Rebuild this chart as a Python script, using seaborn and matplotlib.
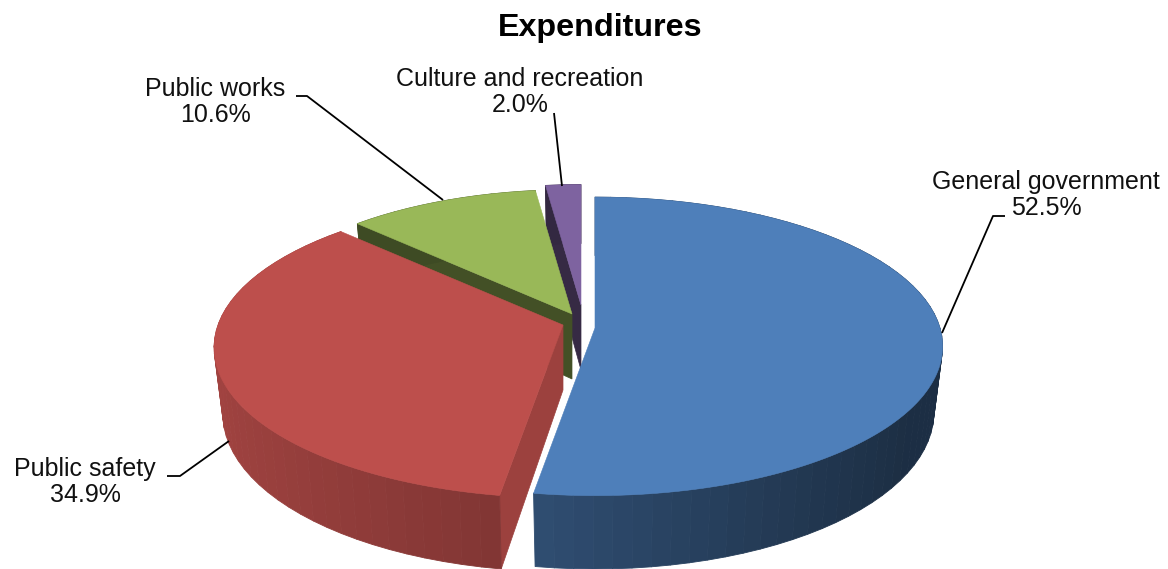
import numpy as np
import matplotlib
matplotlib.use("Agg")
import matplotlib.pyplot as plt
from matplotlib.collections import PolyCollection
from matplotlib.colors import to_rgb
import seaborn as sns

# Budget shares, in the order the slices run clockwise from twelve o'clock
categories = ["General government", "Public safety", "Public works", "Culture and recreation"]
shares = [52.5, 34.9, 10.6, 2.0]
colors = sns.color_palette(["#4F81BD", "#C0504D", "#9BBB59", "#8064A2"])

# Where each exploded slice's tip sits on the canvas, its size relative to
# the front slices, and how strongly its near side swells towards the viewer
tips = [(595, 328), (563, 325), (572, 314), (581, 305)]
slice_scale = [1.0, 1.0, 0.95, 0.92]
perspective = [0.123, 0.15, 0.123, 0.123]
# Brightness of the outer wall (dark end, bright end) and of the cut face
wall_shade = [(0.36, 0.60), (0.64, 0.84), (0.40, 0.40), (0.40, 0.40)]
face_shade = [0.40, 0.81, 0.43, 0.42]

# Projection of the tilted disc
RX, RY = 345.0, 147.0
DEPTH, BASE_SX, BASE_SY = 65.0, 0.975, 1.05

label_text = [f"{c}\n{s:.1f}%" for c, s in zip(categories, shares)]
label_pos = [(1046, 195), (85, 482), (215, 102), (520, 92)]
leaders = [
    [(942, 333), (993, 216), (1005, 216)],
    [(229, 441), (180, 476), (167, 476)],
    [(443, 200), (307, 96), (296, 96)],
    [(562, 186), (554, 113)],
]


def rim(i, theta, sx=1.0, sy=1.0, dy=0.0):
    """Project rim points of slice i at clockwise angles theta (radians from north)."""
    u, v = np.sin(theta), np.cos(theta)
    p = slice_scale[i] / (1 + perspective[i] * v)
    return np.column_stack([tips[i][0] + sx * RX * u * p, tips[i][1] + dy - sy * RY * v * p])


sns.set_theme(style="white")
plt.rcParams["font.family"] = ["Liberation Sans", "DejaVu Sans"]

fig = plt.figure(figsize=(11.68, 5.69), dpi=100, facecolor="white")
ax = fig.add_axes([0, 0, 1, 1])
ax.set_xlim(0, 1168)
ax.set_ylim(569, 0)
ax.axis("off")

edges = np.cumsum([0.0] + shares) / sum(shares) * 2 * np.pi

# Slices at the back are painted first so the nearer ones overlap them
for i in reversed(range(len(shares))):
    start, end = edges[i], edges[i + 1]
    base = np.array(to_rgb(colors[i]))
    tip = tips[i]

    # cut face along the slice's leading radius
    first = np.array([start])
    face = [tip, rim(i, first)[0], rim(i, first, BASE_SX, BASE_SY, DEPTH)[0], (tip[0], tip[1] + DEPTH)]
    ax.fill(*zip(*face), color=base * face_shade[i], lw=0.5, zorder=i * -10 + 1)

    # outer wall as narrow vertical strips, giving the stepped shading
    theta = np.linspace(start, end, max(int((end - start) * 20), 2) + 1)
    top = rim(i, theta)
    low = rim(i, theta, BASE_SX, BASE_SY, DEPTH)
    quads = [[top[k], top[k + 1], low[k + 1], low[k]] for k in range(len(theta) - 1)]
    mid = (theta[:-1] + theta[1:]) / 2
    dark, bright = wall_shade[i]
    if i == 0:
        shade = bright + (dark - bright) * np.clip(np.sin(mid) + 0.16, 0, 1)
    else:
        shade = dark + (bright - dark) * np.clip(-np.sin(mid), 0, 1)
    wall_colors = [np.clip(base * s, 0, 1) for s in shade]
    ax.add_collection(PolyCollection(quads, facecolors=wall_colors, edgecolors=wall_colors,
                                     linewidths=0.6, zorder=i * -10 + 2))

    # top surface
    arc = np.linspace(start, end, 240)
    outline = np.vstack([[tip], rim(i, arc)])
    ax.fill(outline[:, 0], outline[:, 1], color=base * 0.985, lw=0.4, zorder=i * -10 + 3)

ax.text(600, 28, "Expenditures", fontsize=23.2, fontweight="bold", color="black",
        ha="center", va="center")

for text, (x, y) in zip(label_text, label_pos):
    ax.text(x, y, text, fontsize=18, color="#111111", ha="center", va="center",
            linespacing=1.08)

for path in leaders:
    ax.plot(*zip(*path), color="black", lw=1.3, solid_capstyle="butt", zorder=10)

fig.savefig("out.png", dpi=100, facecolor="white")
